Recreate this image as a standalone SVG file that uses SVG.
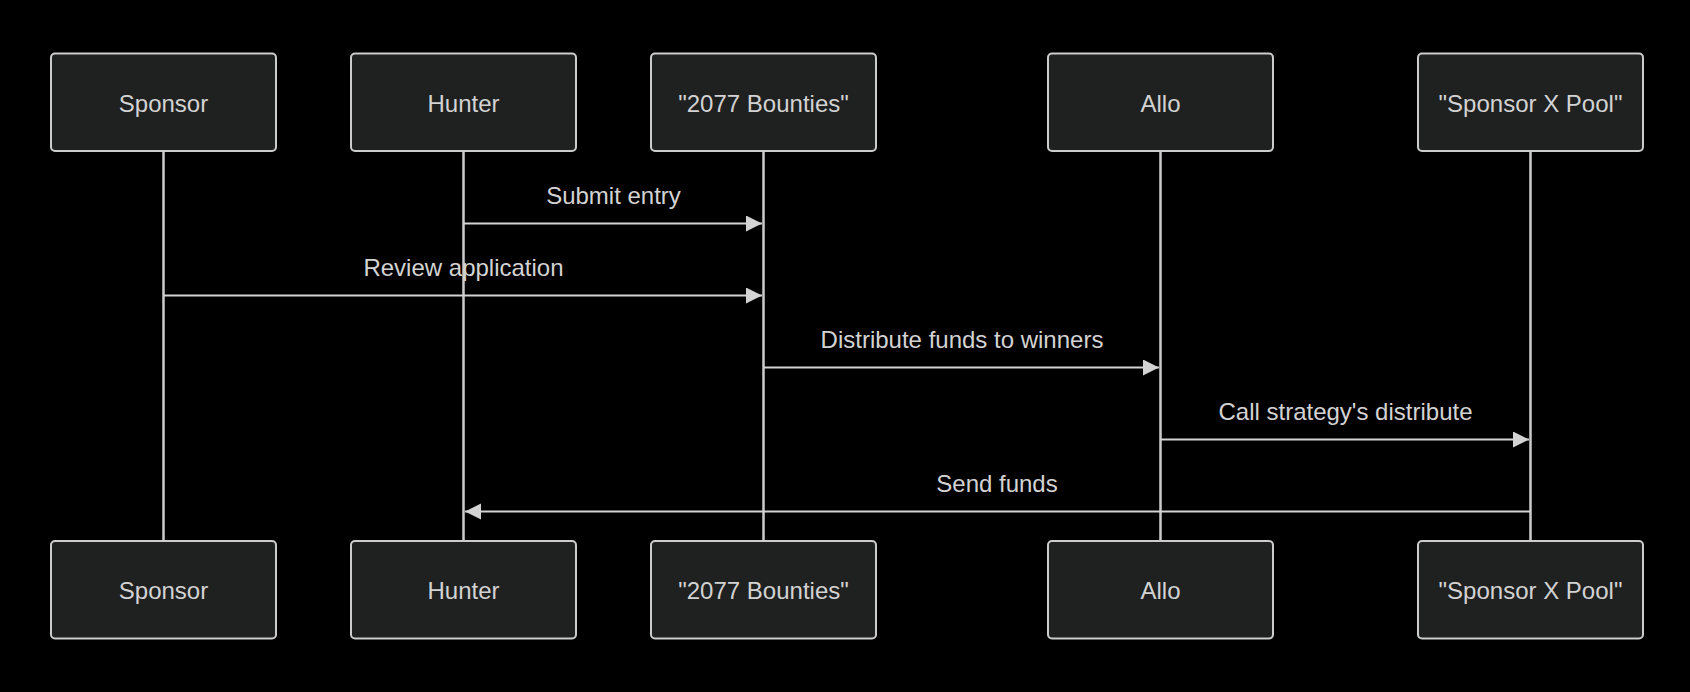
<svg xmlns="http://www.w3.org/2000/svg" width="1690" height="692" viewBox="0 0 1690 692">
<style>
.actor rect{fill:#1f2020;stroke:#cccccc;stroke-width:2}
.actor text{fill:#d3d3d3;font-family:"Liberation Sans",Arial,sans-serif;font-size:24px;text-anchor:middle}
.life{stroke:#cccccc;stroke-width:2.5}
.msg{stroke:#d3d3d3;stroke-width:2;fill:none}
.lbl{fill:#d3d3d3;font-family:"Liberation Sans",Arial,sans-serif;font-size:24px;text-anchor:middle}
</style>
<defs>
<marker id="arr" markerUnits="userSpaceOnUse" markerWidth="17" markerHeight="17" refX="16" refY="8" orient="auto">
<path d="M0,0 L16,8 L0,16 z" fill="#d3d3d3"/>
</marker>
</defs>
<rect width="1690" height="692" fill="#000000"/>
<g id="lifelines">
<line class="life" x1="163.5" y1="151" x2="163.5" y2="541"/>
<line class="life" x1="463.5" y1="151" x2="463.5" y2="541"/>
<line class="life" x1="763.5" y1="151" x2="763.5" y2="541"/>
<line class="life" x1="1160.5" y1="151" x2="1160.5" y2="541"/>
<line class="life" x1="1530.5" y1="151" x2="1530.5" y2="541"/>
</g>
<g id="actor-sponsor" class="actor">
<rect x="51" y="53.5" width="225" height="97.5" rx="4" ry="4"/>
<text x="163.5" y="111.5">Sponsor</text>
<rect x="51" y="541" width="225" height="97.5" rx="4" ry="4"/>
<text x="163.5" y="599">Sponsor</text>
</g>
<g id="actor-hunter" class="actor">
<rect x="351" y="53.5" width="225" height="97.5" rx="4" ry="4"/>
<text x="463.5" y="111.5">Hunter</text>
<rect x="351" y="541" width="225" height="97.5" rx="4" ry="4"/>
<text x="463.5" y="599">Hunter</text>
</g>
<g id="actor-bounties" class="actor">
<rect x="651" y="53.5" width="225" height="97.5" rx="4" ry="4"/>
<text x="763.5" y="111.5">"2077 Bounties"</text>
<rect x="651" y="541" width="225" height="97.5" rx="4" ry="4"/>
<text x="763.5" y="599">"2077 Bounties"</text>
</g>
<g id="actor-allo" class="actor">
<rect x="1048" y="53.5" width="225" height="97.5" rx="4" ry="4"/>
<text x="1160.5" y="111.5">Allo</text>
<rect x="1048" y="541" width="225" height="97.5" rx="4" ry="4"/>
<text x="1160.5" y="599">Allo</text>
</g>
<g id="actor-pool" class="actor">
<rect x="1418" y="53.5" width="225" height="97.5" rx="4" ry="4"/>
<text x="1530.5" y="111.5">"Sponsor X Pool"</text>
<rect x="1418" y="541" width="225" height="97.5" rx="4" ry="4"/>
<text x="1530.5" y="599">"Sponsor X Pool"</text>
</g>
<g id="connectors">
<line class="msg" x1="463.5" y1="223.5" x2="762" y2="223.5" marker-end="url(#arr)"/>
<text class="lbl" x="613.5" y="204">Submit entry</text>
<line class="msg" x1="163.5" y1="295.5" x2="762" y2="295.5" marker-end="url(#arr)"/>
<text class="lbl" x="463.5" y="276">Review application</text>
<line class="msg" x1="763.5" y1="367.5" x2="1159" y2="367.5" marker-end="url(#arr)"/>
<text class="lbl" x="962" y="348">Distribute funds to winners</text>
<line class="msg" x1="1160.5" y1="439.5" x2="1529" y2="439.5" marker-end="url(#arr)"/>
<text class="lbl" x="1345.5" y="420">Call strategy's distribute</text>
<line class="msg" x1="1530.5" y1="511.5" x2="465" y2="511.5" marker-end="url(#arr)"/>
<text class="lbl" x="997" y="492">Send funds</text>
</g>
</svg>
